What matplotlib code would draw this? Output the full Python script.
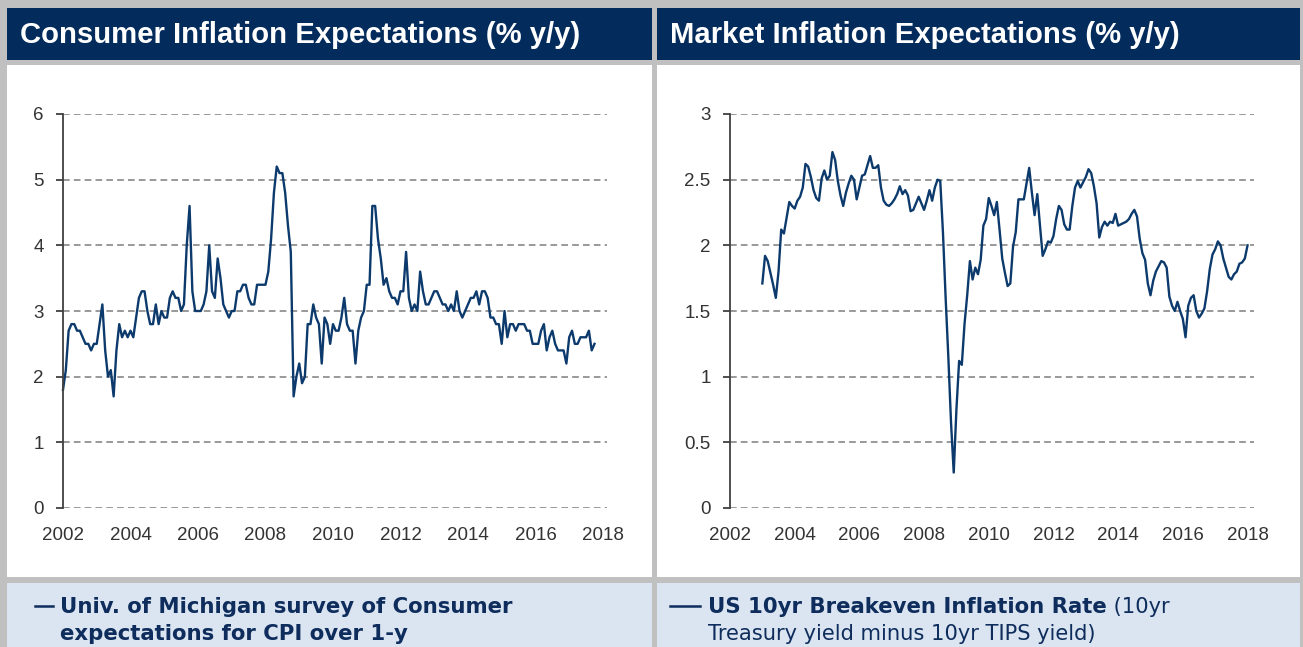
import matplotlib
matplotlib.use('Agg')
import matplotlib.pyplot as plt
from matplotlib.patches import Rectangle
from matplotlib.lines import Line2D
import numpy as np

W, H = 1303, 647

# Univ. of Michigan 1-yr ahead inflation expectations, monthly from Jan 2002
mich_start = 2002
mich = [
    1.8, 2.1, 2.7, 2.8, 2.8, 2.7, 2.7, 2.6, 2.5, 2.5, 2.4, 2.5,   # 2002
    2.5, 2.8, 3.1, 2.4, 2.0, 2.1, 1.7, 2.4, 2.8, 2.6, 2.7, 2.6,   # 2003
    2.7, 2.6, 2.9, 3.2, 3.3, 3.3, 3.0, 2.8, 2.8, 3.1, 2.8, 3.0,   # 2004
    2.9, 2.9, 3.2, 3.3, 3.2, 3.2, 3.0, 3.1, 4.0, 4.6, 3.3, 3.0,   # 2005
    3.0, 3.0, 3.1, 3.3, 4.0, 3.3, 3.2, 3.8, 3.5, 3.1, 3.0, 2.9,   # 2006
    3.0, 3.0, 3.3, 3.3, 3.4, 3.4, 3.2, 3.1, 3.1, 3.4, 3.4, 3.4,   # 2007
    3.4, 3.6, 4.1, 4.8, 5.2, 5.1, 5.1, 4.8, 4.3, 3.9, 1.7, 2.0,   # 2008
    2.2, 1.9, 2.0, 2.8, 2.8, 3.1, 2.9, 2.8, 2.2, 2.9, 2.8, 2.5,   # 2009
    2.8, 2.7, 2.7, 2.9, 3.2, 2.8, 2.7, 2.7, 2.2, 2.7, 2.9, 3.0,   # 2010
    3.4, 3.4, 4.6, 4.6, 4.1, 3.8, 3.4, 3.5, 3.3, 3.2, 3.2, 3.1,   # 2011
    3.3, 3.3, 3.9, 3.2, 3.0, 3.1, 3.0, 3.6, 3.3, 3.1, 3.1, 3.2,   # 2012
    3.3, 3.3, 3.2, 3.1, 3.1, 3.0, 3.1, 3.0, 3.3, 3.0, 2.9, 3.0,   # 2013
    3.1, 3.2, 3.2, 3.3, 3.1, 3.3, 3.3, 3.2, 2.9, 2.9, 2.8, 2.8,   # 2014
    2.5, 3.0, 2.6, 2.8, 2.8, 2.7, 2.8, 2.8, 2.8, 2.7, 2.7, 2.5,   # 2015
    2.5, 2.5, 2.7, 2.8, 2.4, 2.6, 2.7, 2.5, 2.4, 2.4, 2.4, 2.2,   # 2016
    2.6, 2.7, 2.5, 2.5, 2.6, 2.6, 2.6, 2.7, 2.4, 2.5,             # 2017
]

# US 10yr breakeven inflation rate, monthly from Jan 2003
bei_start = 2003
bei = [
    1.71, 1.92, 1.88, 1.79, 1.70, 1.60, 1.80, 2.12, 2.09, 2.21, 2.33, 2.30,  # 2003
    2.28, 2.34, 2.37, 2.44, 2.62, 2.60, 2.52, 2.42, 2.36, 2.34, 2.51, 2.57,  # 2004
    2.50, 2.53, 2.71, 2.65, 2.49, 2.38, 2.30, 2.40, 2.47, 2.53, 2.50, 2.35,  # 2005
    2.44, 2.53, 2.54, 2.61, 2.68, 2.59, 2.59, 2.61, 2.44, 2.34, 2.31, 2.30,  # 2006
    2.32, 2.35, 2.39, 2.45, 2.39, 2.42, 2.38, 2.26, 2.27, 2.32, 2.37, 2.32,  # 2007
    2.27, 2.34, 2.42, 2.34, 2.44, 2.50, 2.49, 2.10, 1.60, 1.15, 0.65, 0.27,  # 2008
    0.75, 1.12, 1.09, 1.40, 1.62, 1.88, 1.74, 1.83, 1.78, 1.89, 2.15, 2.20,  # 2009
    2.36, 2.30, 2.23, 2.33, 2.12, 1.90, 1.79, 1.69, 1.71, 1.99, 2.10, 2.35,  # 2010
    2.35, 2.35, 2.47, 2.59, 2.40, 2.23, 2.39, 2.15, 1.92, 1.97, 2.03, 2.02,  # 2011
    2.07, 2.20, 2.30, 2.27, 2.16, 2.12, 2.12, 2.30, 2.44, 2.49, 2.44, 2.48,  # 2012
    2.52, 2.58, 2.55, 2.45, 2.32, 2.06, 2.14, 2.18, 2.15, 2.18, 2.17, 2.24,  # 2013
    2.15, 2.16, 2.17, 2.18, 2.20, 2.24, 2.27, 2.22, 2.05, 1.94, 1.89, 1.71,  # 2014
    1.62, 1.73, 1.80, 1.84, 1.88, 1.87, 1.83, 1.61, 1.54, 1.50, 1.57, 1.50,  # 2015
    1.44, 1.30, 1.54, 1.60, 1.62, 1.50, 1.45, 1.48, 1.52, 1.65, 1.82, 1.93,  # 2016
    1.97, 2.03, 2.00, 1.90, 1.83, 1.76, 1.74, 1.78, 1.80, 1.86, 1.87, 1.90,  # 2017
    2.00,                                                                    # 2018
]

year_ticks = list(range(2002, 2019, 2))
titles = ['Consumer Inflation Expectations (% y/y)', 'Market Inflation Expectations (% y/y)']

NAVY = '#032c5c'
LINE = '#0c3a6c'
FOOT = '#dbe5f1'
TXT = '#0e2d5c'

fig = plt.figure(figsize=(W / 100, H / 100), dpi=100, facecolor='#c0c0c0')


def box(x0, y0, x1, y1, color):
    # pixel box, y measured from the top
    fig.add_artist(Rectangle((x0 / W, 1 - y1 / H), (x1 - x0) / W, (y1 - y0) / H,
                             transform=fig.transFigure, facecolor=color,
                             edgecolor='none', zorder=0))


def make_axes(x0, x1, y0, y1):
    return fig.add_axes([x0 / W, 1 - y1 / H, (x1 - x0) / W, (y1 - y0) / H])


def dash(x0, x1, y):
    fig.add_artist(Line2D([x0 / W, x1 / W], [1 - y / H, 1 - y / H],
                          transform=fig.transFigure, color=TXT, linewidth=1.8))


for (a, b) in [(7, 652), (657, 1300)]:
    box(a, 8, b, 60, NAVY)
    box(a, 65, b, 577, 'white')
    box(a, 583, b, 647, FOOT)

fig.text(20 / W, 1 - 35 / H, titles[0], color='white', fontsize=21.1,
         fontweight='bold', family='Liberation Sans', va='center')
fig.text(670 / W, 1 - 35 / H, titles[1], color='white', fontsize=21.1,
         fontweight='bold', family='Liberation Sans', va='center')


def style(ax, ylim, yticks, ylabels, xmax):
    ax.set_facecolor('none')
    ax.set_ylim(*ylim)
    ax.set_xlim(2002, xmax)
    ax.set_yticks(yticks)
    ax.set_yticklabels(ylabels)
    ax.set_xticks(year_ticks)
    ax.set_xticklabels([str(y) for y in year_ticks])
    for s in ['top', 'right', 'bottom']:
        ax.spines[s].set_visible(False)
    ax.spines['left'].set_color('#404040')
    ax.spines['left'].set_linewidth(1.3)
    ax.tick_params(axis='y', length=5, width=1.3, color='#404040', pad=9,
                   labelsize=13.5, labelcolor='#333333')
    ax.tick_params(axis='x', length=0, pad=14, labelsize=13.5, labelcolor='#333333')
    for lab in ax.get_xticklabels() + ax.get_yticklabels():
        lab.set_family('Liberation Sans')
    ax.grid(axis='y', color='#888888', linestyle=(0, (4, 2.5)), linewidth=1.2)
    ax.set_axisbelow(True)


ax1 = make_axes(63, 607, 114, 508)
x1 = mich_start + np.arange(len(mich)) / 12
ax1.plot(x1, mich, color=LINE, linewidth=1.7, clip_on=False)
style(ax1, (0, 6), range(0, 7), [str(v) for v in range(0, 7)], 2018.12)

ax2 = make_axes(730, 1254, 114, 508)
x2 = bei_start + np.arange(len(bei)) / 12
ax2.plot(x2, bei, color=LINE, linewidth=1.7, clip_on=False)
style(ax2, (0, 3), np.arange(0, 3.01, 0.5), ['0', '0.5', '1', '1.5', '2', '2.5', '3'], 2018.2)

# footers
fb = 15.3
fr = 15.1
dash(35, 53, 606)
fig.text(60 / W, 1 - 613 / H, 'Univ. of Michigan survey of Consumer', color=TXT,
         fontsize=fb, fontweight='bold', va='baseline')
fig.text(60 / W, 1 - 640 / H, 'expectations for CPI over 1-y', color=TXT,
         fontsize=fb, fontweight='bold', va='baseline')

dash(670, 700, 606)
t = fig.text(708 / W, 1 - 613 / H, 'US 10yr Breakeven Inflation Rate', color=TXT,
             fontsize=fb, fontweight='bold', va='baseline')
r = fig.canvas.get_renderer()
bb = t.get_window_extent(renderer=r)
fig.text(bb.x1 / W, 1 - 613 / H, ' (10yr', color=TXT, fontsize=fr, va='baseline')
fig.text(708 / W, 1 - 640 / H, 'Treasury yield minus 10yr TIPS yield)', color=TXT,
         fontsize=fr, va='baseline')

fig.savefig('out.png', dpi=100, facecolor=fig.get_facecolor())
